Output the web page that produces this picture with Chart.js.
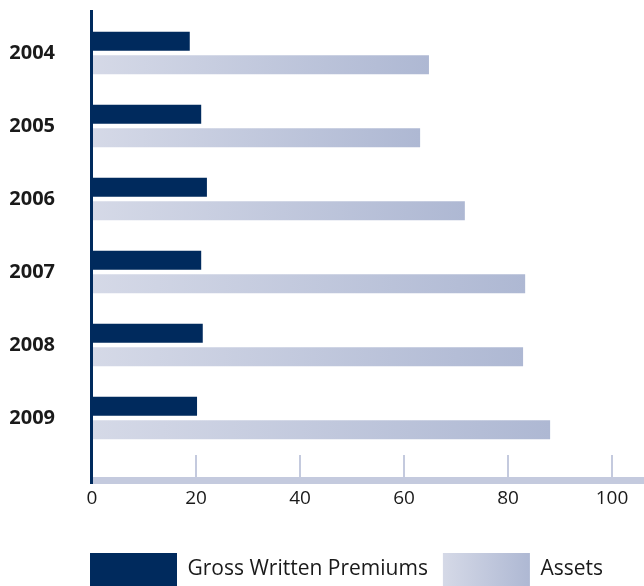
<!DOCTYPE html>
<html lang="en">
<head>
    <meta charset="UTF-8">
    <title>Gross Written Premiums and Assets</title>
    <script src="https://cdn.jsdelivr.net/npm/chart.js"></script>
    <style>
        html, body { margin: 0; padding: 0; background: #fff; overflow: hidden; }
        #wrap { position: relative; width: 644px; height: 596px; }
    </style>
</head>
<body>
    <div id="wrap"><canvas id="myChart"></canvas></div>

    <script>
        const years = ['2004', '2005', '2006', '2007', '2008', '2009'];
        const premiums = [18.8, 21.0, 22.1, 21.0, 21.3, 20.2];
        const assets = [64.8, 63.1, 71.7, 83.3, 82.9, 88.1];
        const xTicks = [0, 20, 40, 60, 80, 100];

        const NAVY = '#002a5d';
        const LIGHT = '#d5d9e7';
        const DARK = '#aeb8d3';
        const BAND = '#c4cade';
        const LEGEND_PAD = 15;

        function fade(ctx, x0, x1) {
            const g = ctx.createLinearGradient(x0, 0, x1, 0);
            g.addColorStop(0, LIGHT);
            g.addColorStop(1, DARK);
            return g;
        }

        // light-to-dark fill along each assets bar
        function assetsFill(context) {
            const chart = context.chart;
            const x = chart.scales.x;
            if (!x || !chart.chartArea || context.raw == null) return DARK;
            return fade(chart.ctx, x.getPixelForValue(0), x.getPixelForValue(context.raw));
        }

        // navy value axis line, pale baseline band, legend placed under the plot
        const axisDecor = {
            id: 'axisDecor',
            afterLayout(chart) {
                chart.legend.left = chart.chartArea.left - 2 - LEGEND_PAD;
                chart.legend.right = chart.width;
            },
            beforeDraw(chart) {
                const lg = chart.legend;
                if (lg && lg.legendHitBoxes && lg.legendHitBoxes[1]) {
                    const hb = lg.legendHitBoxes[1];
                    lg.legendItems[1].fillStyle = fade(chart.ctx, hb.left, hb.left + 87);
                }
            },
            afterDraw(chart) {
                const ctx = chart.ctx;
                const x = chart.scales.x;
                const x0 = x.getPixelForValue(0);
                const bandTop = x.top + 22.5;
                const lineTop = chart.chartArea.top - 6.5;
                ctx.save();
                ctx.fillStyle = BAND;
                ctx.fillRect(x0, bandTop, chart.width - x0, 7);
                ctx.fillStyle = NAVY;
                ctx.fillRect(x0 - 2, lineTop, 3, bandTop + 7 - lineTop);
                ctx.restore();
            }
        };

        new Chart(document.getElementById('myChart'), {
            type: 'bar',
            data: {
                labels: years,
                datasets: [{
                    label: 'Gross Written Premiums',
                    data: premiums,
                    backgroundColor: NAVY,
                    borderWidth: 0,
                    categoryPercentage: 0.644,
                    barPercentage: 0.81
                }, {
                    label: 'Assets',
                    data: assets,
                    backgroundColor: assetsFill,
                    borderWidth: 0,
                    categoryPercentage: 0.644,
                    barPercentage: 0.81
                }]
            },
            options: {
                indexAxis: 'y',
                responsive: true,
                maintainAspectRatio: false,
                animation: false,
                layout: { padding: { left: 0, right: 32, top: 16.5, bottom: 0 } },
                scales: {
                    x: {
                        min: 0,
                        max: 100,
                        afterBuildTicks: (scale) => { scale.ticks = xTicks.map(v => ({ value: v })); },
                        afterFit: (scale) => { scale.height = 83.5; },
                        border: { display: false },
                        grid: {
                            drawOnChartArea: false,
                            drawTicks: true,
                            tickLength: 23,
                            lineWidth: 2,
                            color: (c) => (c.tick && c.tick.value === 0) ? 'rgba(0,0,0,0)' : BAND
                        },
                        ticks: {
                            padding: 10,
                            color: '#1a1a1a',
                            font: { family: 'Open Sans', size: 19 }
                        }
                    },
                    y: {
                        afterFit: (scale) => {
                            scale.width = 92;
                            scale.paddingTop = 0;
                            scale.paddingBottom = 0;
                        },
                        border: { display: false },
                        grid: { display: false, drawTicks: false },
                        ticks: {
                            padding: 37,
                            color: '#1a1a1a',
                            font: { family: 'Open Sans', size: 20, weight: 'bold' }
                        }
                    }
                },
                plugins: {
                    tooltip: { enabled: false },
                    legend: {
                        position: 'bottom',
                        align: 'start',
                        labels: {
                            boxWidth: 87,
                            boxHeight: 33,
                            padding: LEGEND_PAD,
                            color: '#1a1a1a',
                            font: { family: 'Open Sans', size: 21 }
                        }
                    }
                }
            },
            plugins: [axisDecor]
        });
    </script>
</body>
</html>
